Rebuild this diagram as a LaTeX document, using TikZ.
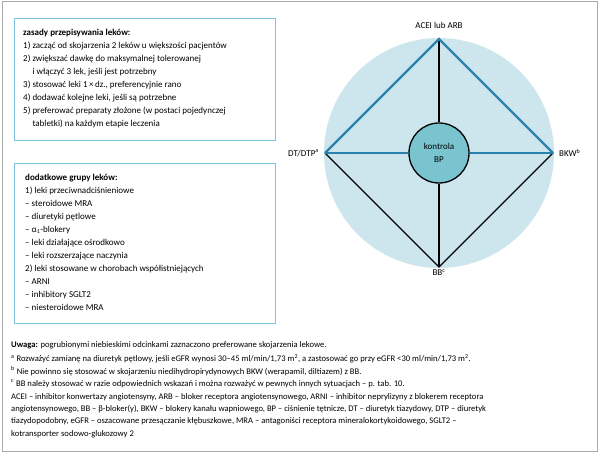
\documentclass[tikz,border=0pt]{standalone}
\usepackage{fontspec}
\setmainfont{Carlito}
\definecolor{disc}{RGB}{205,230,238}
\definecolor{hub}{RGB}{122,196,208}
\definecolor{prefblue}{RGB}{42,130,172}
\definecolor{frame}{RGB}{128,195,224}
\definecolor{outer}{RGB}{170,170,170}
\tikzset{
  infobox/.style={draw=frame,line width=0.9pt},
  txt/.style={align=left,anchor=north west,inner sep=0pt,font=\fontsize{9}{13}\selectfont},
  note/.style={align=left,anchor=north west,inner sep=0pt,font=\fontsize{8.6}{12.4}\selectfont},
  vlabel/.style={font=\fontsize{9}{11}\selectfont,inner sep=1pt},
  blueline/.style={color=prefblue,line width=2.2pt},
  blackline/.style={color=black,line width=1.2pt}
}
\begin{document}
\begin{tikzpicture}[x=1pt,y=-1pt]
    \useasboundingbox (0,0) rectangle (600,454);
    \draw[outer,line width=1pt] (2,2) rectangle (597,451);
    % ramki z tekstem
    \draw[infobox] (14,18) rectangle (275,140);
    \draw[infobox] (14,163) rectangle (275,323);
    \node[txt] (zasady) at (23,29) {\textbf{zasady przepisywania leków:}\\
      1) zacząć od skojarzenia 2 leków u większości pacjentów\\
      2) zwiększać dawkę do maksymalnej tolerowanej\\
      \hphantom{2) }i włączyć 3 lek, jeśli jest potrzebny\\
      3) stosować leki 1\,×\,dz., preferencyjnie rano\\
      4) dodawać kolejne leki, jeśli są potrzebne\\
      5) preferować preparaty złożone (w postaci pojedynczej\\
      \hphantom{5) }tabletki) na każdym etapie leczenia};
    \node[txt] (grupy) at (25,174) {\textbf{dodatkowe grupy leków:}\\
      1) leki przeciwnadciśnieniowe\\
      – steroidowe MRA\\
      – diuretyki pętlowe\\
      – α\textsubscript{1}-blokery\\
      – leki działające ośrodkowo\\
      – leki rozszerzające naczynia\\
      2) leki stosowane w chorobach współistniejących\\
      – ARNI\\
      – inhibitory SGLT2\\
      – niesteroidowe MRA};
    % diagram
    \fill[disc] (439,153) circle (115);
    \coordinate (acei) at (439,39);
    \coordinate (bkw) at (553,153);
    \coordinate (bb) at (439,267);
    \coordinate (dt) at (325,153);
    \node[circle,draw=black,fill=hub,line width=1.3pt,minimum size=60pt,inner sep=0pt,
      align=center,font=\fontsize{9}{12.5}\selectfont] (bp) at (439,153) {kontrola\\BP};
    \draw[blackline] (dt)--(bb)--(bkw);
    \draw[blackline] (acei)--(bp);
    \draw[blackline] (bp)--(bb);
    \draw[blueline] (dt)--(acei)--(bkw);
    \draw[blueline] (dt)--(bp);
    \draw[blueline] (bp)--(bkw);
    \node[vlabel,above=9pt] (acelab) at (acei) {ACEI lub ARB};
    \node[vlabel,left=5pt] (dtlab) at (dt) {DT/DTP\textsuperscript{a}};
    \node[vlabel,right=5pt] (bkwlab) at (bkw) {BKW\textsuperscript{b}};
    \node[vlabel,below=1pt] (bblab) at (bb) {BB\textsuperscript{c}};
    % uwagi
    \node[note] (uwaga) at (11,341) {\textbf{Uwaga:} pogrubionymi niebieskimi odcinkami zaznaczono preferowane skojarzenia lekowe.};
    \node[note] (przyp) at (11,354) {\textsuperscript{a} Rozważyć zamianę na diuretyk pętlowy, jeśli eGFR wynosi 30–45 ml/min/1,73 m\textsuperscript{2}, a zastosować go przy eGFR <30 ml/min/1,73 m\textsuperscript{2}.\\
      \textsuperscript{b} Nie powinno się stosować w skojarzeniu niedihydropirydynowych BKW (werapamil, diltiazem) z BB.\\
      \textsuperscript{c} BB należy stosować w razie odpowiednich wskazań i można rozważyć w pewnych innych sytuacjach – p. tab. 10.};
    \node[note] (skroty) at (11,393) {ACEI – inhibitor konwertazy angiotensyny, ARB – bloker receptora angiotensynowego, ARNI – inhibitor neprylizyny z blokerem receptora\\
      angiotensynowego, BB – β-bloker(y), BKW – blokery kanału wapniowego, BP – ciśnienie tętnicze, DT – diuretyk tiazydowy, DTP – diuretyk\\
      tiazydopodobny, eGFR – oszacowane przesączanie kłębuszkowe, MRA – antagoniści receptora mineralokortykoidowego, SGLT2 –\\
      kotransporter sodowo-glukozowy 2};
\end{tikzpicture}
\end{document}
